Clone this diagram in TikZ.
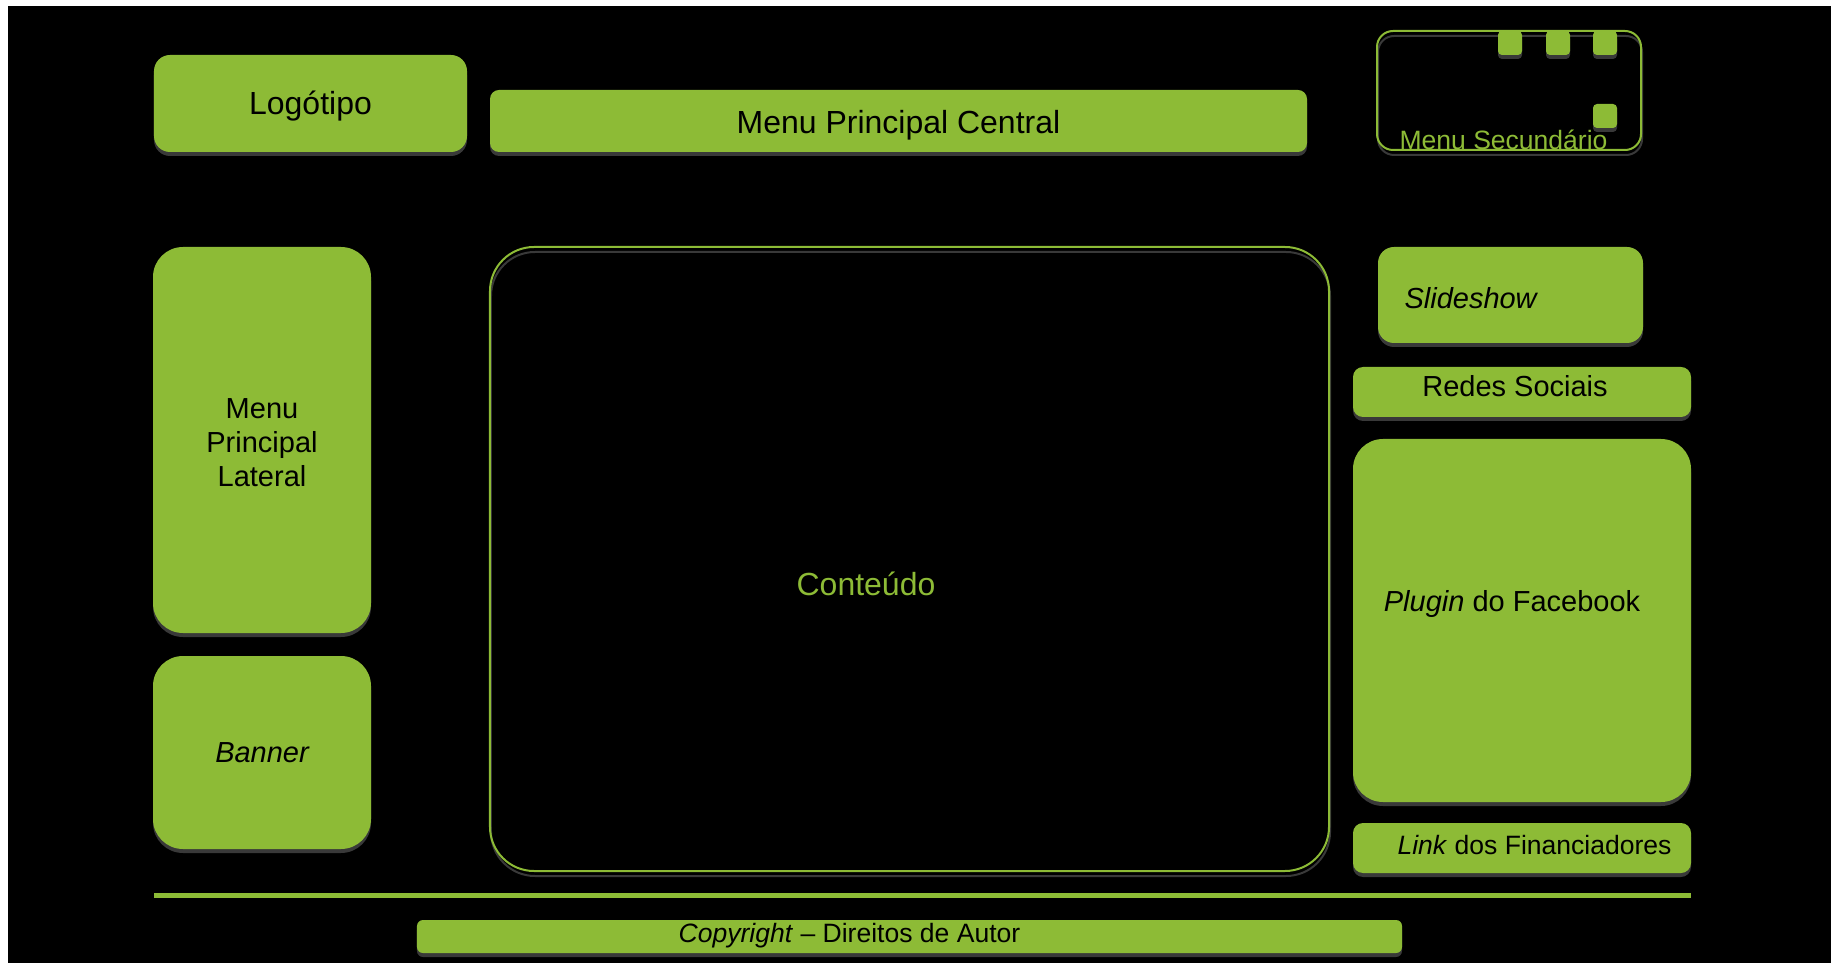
\documentclass[tikz,border=0pt]{standalone}
\usepackage{fontspec}
\setmainfont{Liberation Sans}
\usepackage{xcolor}
\usepackage{tikz}
\usetikzlibrary{shadows}
\definecolor{leaf}{HTML}{8DBB36}
\definecolor{shade}{HTML}{393939}
\newcommand{\sizeL}{\fontsize{18.2}{21}\selectfont}
\newcommand{\sizeM}{\fontsize{16.5}{19.35}\selectfont}
\newcommand{\sizeS}{\fontsize{15.1}{17}\selectfont}

\begin{document}
\begin{tikzpicture}[x=0.2mm, y=-0.2mm, semithick]
\tikzstyle{block}=[shape=rectangle, fill=leaf, draw=none, text=black, inner sep=0pt,
                   drop shadow={shadow xshift=0mm, shadow yshift=-0.8mm, fill=shade, opacity=1}]
\tikzstyle{frame}=[shape=rectangle, draw=leaf, line width=0.4mm, inner sep=0pt,
                   preaction={draw=shade, transform canvas={xshift=0.2mm, yshift=-1mm}}]
\tikzstyle{txt}=[inner sep=0pt, text=black]
  % page and background
  \useasboundingbox (0,0) rectangle (1831,963);
  \fill[white] (0,0) rectangle (1831,963);
  \fill[black] (8,6) rectangle (1831,963);

  % header
  \node[block, rounded corners=3.2mm, minimum width=62.6mm, minimum height=19.4mm]
        (logo) at (310.5,103.5) {};
  \node[txt, anchor=base, font=\sizeL] (logotext) at (310.5,115) {Logótipo};
  \node[block, rounded corners=1.8mm, minimum width=163.4mm, minimum height=12.4mm]
        (central) at (898.5,121) {};
  \node[txt, anchor=base, font=\sizeL] (centraltext) at (898.5,133.5) {Menu Principal Central};
  \node[frame, rounded corners=3.2mm, minimum width=52.8mm, minimum height=23.8mm]
        (second) at (1509,90.5) {};
  \node[block, rounded corners=0.8mm, minimum size=4.8mm] (key1) at (1510,43) {};
  \node[block, rounded corners=0.8mm, minimum size=4.8mm] (key2) at (1558,43) {};
  \node[block, rounded corners=0.8mm, minimum size=4.8mm] (key3) at (1605,43) {};
  \node[block, rounded corners=0.8mm, minimum size=4.8mm] (key4) at (1605,116) {};
  \node[txt, anchor=base west, text=leaf, font=\sizeS] (secondtext) at (1399,150)
        {Menu Secundário};

  % left column
  \node[block, rounded corners=6mm, minimum width=43.6mm, minimum height=77.2mm]
        (lateral) at (262,440) {};
  \node[txt, align=center, font=\sizeM] (lateraltext) at (262,442.5)
        {Menu\\Principal\\Lateral};
  \node[block, rounded corners=6mm, minimum width=43.6mm, minimum height=38.6mm,
        font=\sizeM\itshape] (banner) at (262,752.5) {Banner};

  % content
  \node[frame, rounded corners=8.8mm, minimum width=167.8mm, minimum height=124.8mm]
        (content) at (909.5,559) {};
  \node[txt, text=leaf, font=\sizeL] (contenttext) at (866,584) {Conteúdo};

  % right column
  \node[block, rounded corners=3.2mm, minimum width=53mm, minimum height=19.2mm]
        (slide) at (1510.5,295) {};
  \node[txt, anchor=west, font=\sizeM\itshape] (slidetext) at (1404,298) {Slideshow};
  \node[block, rounded corners=2mm, minimum width=67.6mm, minimum height=10mm]
        (social) at (1522,392) {};
  \node[txt, font=\sizeM] (socialtext) at (1515,386) {Redes Sociais};
  \node[block, rounded corners=6mm, minimum width=67.6mm, minimum height=72.6mm]
        (facebook) at (1522,620.5) {};
  \node[txt, font=\sizeM] (facebooktext) at (1512,604) {\textit{Plugin} do Facebook};
  \node[block, rounded corners=2mm, minimum width=67.6mm, minimum height=10mm]
        (link) at (1522,848) {};
  \node[txt, font=\sizeS] (linktext) at (1534.5,845) {\textit{Link} dos Financiadores};

  % footer
  \draw[shade, line width=1mm] (154,899.5) -- (1691,899.5);
  \draw[leaf, line width=1mm] (154,895.5) -- (1691,895.5);
  \node[block, rounded corners=1.2mm, minimum width=197mm, minimum height=6.6mm]
        (copyright) at (909.5,936.5) {};
  \node[txt, font=\sizeS] (copyrighttext) at (849.5,936)
        {\textit{Copyright} – Direitos de Autor};
\end{tikzpicture}
\end{document}
